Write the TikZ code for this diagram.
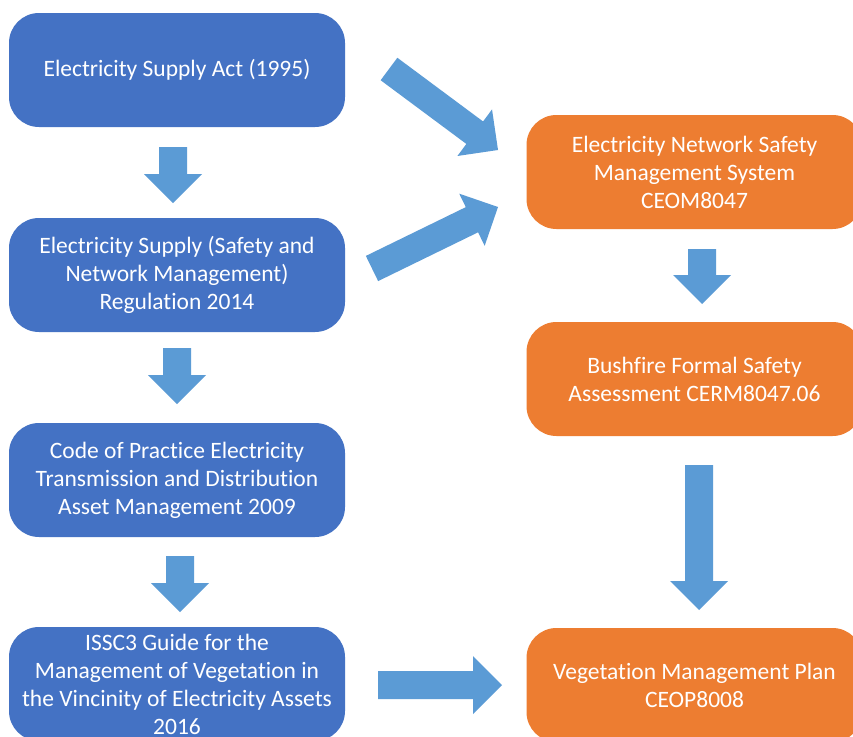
\documentclass[tikz,border=0pt]{standalone}
\usepackage{fontspec}
\setmainfont{Carlito}[Ligatures=NoCommon]
\usetikzlibrary{calc}

\definecolor{boxblue}{HTML}{4472C4}
\definecolor{boxorange}{HTML}{ED7D31}
\definecolor{arrowblue}{HTML}{5B9BD5}

\tikzset{
  docbox/.style={rounded corners=30pt, minimum width=336pt, minimum height=114pt,
    inner sep=0pt, align=center, text=white,
    font=\fontsize{23.5}{28}\selectfont},
  lawbox/.style={docbox, fill=boxblue},
  planbox/.style={docbox, fill=boxorange},
  arrowfill/.style={fill=arrowblue}
}

% Block arrow from a tail coordinate to a tip coordinate
\newcommand{\blockarrow}[2]{%
  \path ($(#2)!29pt!(#1)$) coordinate (hb);
  \fill[arrowfill]
    ($(#1)!14pt!90:(#2)$) -- ($(hb)!14pt!90:(#2)$) -- ($(hb)!29pt!90:(#2)$)
    -- (#2)
    -- ($(hb)!29pt!-90:(#2)$) -- ($(hb)!14pt!-90:(#2)$) -- ($(#1)!14pt!-90:(#2)$)
    -- cycle;
}

\begin{document}
\begin{tikzpicture}[x=1pt, y=-1pt]
\useasboundingbox (0,0) rectangle (853,736);
\clip (0,0) rectangle (853,736);
\fill[white] (0,0) rectangle (853,736);

% Left column: legislation and codes
\node[lawbox] (act) at (177,70) {Electricity Supply Act (1995)};
\node[lawbox] (reg) at (177,275) {Electricity Supply (Safety and\\Network Management)\\Regulation 2014};
\node[lawbox] (cop) at (177,480) {Code of Practice Electricity\\Transmission and Distribution\\Asset Management 2009};
\node[lawbox] (issc) at (177,684) {ISSC3 Guide for the\\Management of Vegetation in\\the Vincinity of Electricity Assets\\2016};

% Right column: company documents
\node[planbox] (ensms) at (694.5,172) {Electricity Network Safety\\Management System\\CEOM8047};
\node[planbox] (bfsa) at (694.5,379) {Bushfire Formal Safety\\Assessment CERM8047.06};
\node[planbox] (vmp) at (694.5,685) {Vegetation Management Plan\\CEOP8008};

% Arrow end points
\coordinate (d1a) at (173,147);  \coordinate (d1b) at (173,203);
\coordinate (d2a) at (177,348);  \coordinate (d2b) at (177,404);
\coordinate (d3a) at (180,556);  \coordinate (d3b) at (180,612);
\coordinate (r1a) at (702,249);  \coordinate (r1b) at (702,304);
\coordinate (r2a) at (699,465);  \coordinate (r2b) at (699,610);
\coordinate (ha)  at (378,685);  \coordinate (hbb) at (502,685);
\coordinate (u1a) at (389,69);   \coordinate (u1b) at (498,150);
\coordinate (u2a) at (372,268.5);\coordinate (u2b) at (498,207);

\blockarrow{d1a}{d1b}
\blockarrow{d2a}{d2b}
\blockarrow{d3a}{d3b}
\blockarrow{r1a}{r1b}
\blockarrow{r2a}{r2b}
\blockarrow{ha}{hbb}
\blockarrow{u1a}{u1b}
\blockarrow{u2a}{u2b}
\end{tikzpicture}
\end{document}
